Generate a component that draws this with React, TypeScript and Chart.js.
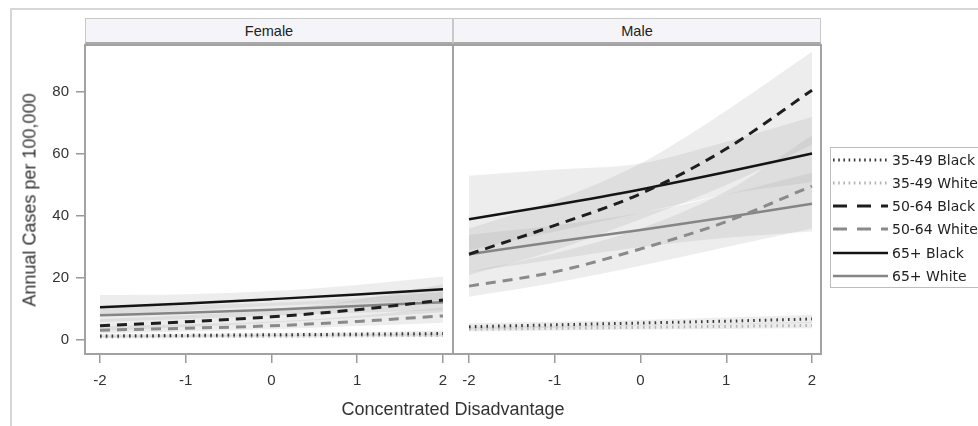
import React, { useEffect, useRef } from "react";
import { Chart, registerables } from "chart.js";

Chart.register(...registerables);

// ---------- data ----------
const xValues = [-2, -1, 0, 1, 2];
const xTicks = [-2, -1, 0, 1, 2];
const yTicks = [0, 20, 40, 60, 80];
const panelNames = ["Female", "Male"];
const seriesNames = ["35-49 Black", "35-49 White", "50-64 Black", "50-64 White", "65+ Black", "65+ White"];
const xTitle = "Concentrated Disadvantage";
const yTitle = "Annual Cases per 100,000";

// Female: fitted values, lower and upper confidence limits
const female3549Black = [1.3, 1.5, 1.7, 1.9, 2.1];
const female3549White = [1.0, 1.1, 1.2, 1.4, 1.5];
const female5064Black = [4.6, 5.9, 7.5, 9.8, 12.9];
const female5064White = [3.2, 3.8, 4.6, 6.0, 7.8];
const female65Black = [10.6, 11.8, 13.2, 14.7, 16.4];
const female65White = [8.0, 8.8, 9.8, 11.0, 12.2];

const female3549BlackLow = [0.8, 1.0, 1.2, 1.3, 1.4];
const female3549BlackHigh = [2.0, 2.1, 2.3, 2.6, 3.0];
const female3549WhiteLow = [0.6, 0.7, 0.8, 0.9, 1.0];
const female3549WhiteHigh = [1.5, 1.6, 1.7, 1.9, 2.2];
const female5064BlackLow = [3.0, 4.2, 5.6, 7.2, 9.0];
const female5064BlackHigh = [6.8, 8.0, 9.8, 13.0, 18.0];
const female5064WhiteLow = [2.2, 2.8, 3.5, 4.5, 5.6];
const female5064WhiteHigh = [4.5, 5.1, 6.0, 7.8, 10.5];
const female65BlackLow = [7.8, 9.4, 11.0, 12.0, 12.8];
const female65BlackHigh = [14.5, 14.8, 15.8, 17.8, 20.5];
const female65WhiteLow = [5.8, 6.8, 7.9, 8.8, 9.6];
const female65WhiteHigh = [10.8, 11.2, 12.0, 13.6, 15.5];

// Male
const male3549Black = [4.3, 4.9, 5.5, 6.1, 6.8];
const male3549White = [3.5, 3.8, 4.1, 4.4, 4.7];
const male5064Black = [27.7, 37.0, 47.2, 61.7, 80.6];
const male5064White = [17.4, 22.0, 29.4, 38.2, 49.7];
const male65Black = [39.0, 43.6, 48.6, 54.2, 60.2];
const male65White = [27.7, 31.7, 35.5, 39.6, 44.0];

const male3549BlackLow = [3.4, 4.0, 4.6, 5.1, 5.6];
const male3549BlackHigh = [5.4, 5.9, 6.5, 7.3, 8.2];
const male3549WhiteLow = [2.8, 3.1, 3.4, 3.6, 3.8];
const male3549WhiteHigh = [4.3, 4.6, 4.9, 5.3, 5.8];
const male5064BlackLow = [21, 29, 39, 50, 63];
const male5064BlackHigh = [36, 45, 57, 74, 93];
const male5064WhiteLow = [14, 18.5, 24, 30, 36];
const male5064WhiteHigh = [22, 28, 36, 48, 66];
const male65BlackLow = [29, 35, 41, 47, 51];
const male65BlackHigh = [53, 55, 57, 64, 72];
const male65WhiteLow = [22, 26, 30, 33, 35];
const male65WhiteHigh = [34, 37, 41, 47, 54];

const femaleValues = [female3549Black, female3549White, female5064Black, female5064White, female65Black, female65White];
const femaleLows = [female3549BlackLow, female3549WhiteLow, female5064BlackLow, female5064WhiteLow, female65BlackLow, female65WhiteLow];
const femaleHighs = [female3549BlackHigh, female3549WhiteHigh, female5064BlackHigh, female5064WhiteHigh, female65BlackHigh, female65WhiteHigh];
const maleValues = [male3549Black, male3549White, male5064Black, male5064White, male65Black, male65White];
const maleLows = [male3549BlackLow, male3549WhiteLow, male5064BlackLow, male5064WhiteLow, male65BlackLow, male65WhiteLow];
const maleHighs = [male3549BlackHigh, male3549WhiteHigh, male5064BlackHigh, male5064WhiteHigh, male65BlackHigh, male65WhiteHigh];

// ---------- styles ----------
const seriesStyles = [
  { color: "#3a3a3a", width: 3, dash: [1.6, 4.2], legendDash: [1.6, 3.6] },
  { color: "#b4b4b4", width: 3, dash: [1.6, 4.2], legendDash: [1.6, 3.6] },
  { color: "#1e1e1e", width: 3, dash: [10, 7], legendDash: [14, 10] },
  { color: "#8a8a8a", width: 3, dash: [10, 7], legendDash: [14, 10] },
  { color: "#141414", width: 2.5, dash: [], legendDash: [] },
  { color: "#858585", width: 2.5, dash: [], legendDash: [] },
];
const bandColor = "rgba(140,140,140,0.16)";
const SANS = '"Liberation Sans", Arial, Helvetica, sans-serif';

function buildDatasets(values: number[][], lows: number[][], highs: number[][]) {
  const ds: any[] = [];
  seriesStyles.forEach((_, i) => {
    ds.push({
      label: seriesNames[i] + " upper",
      data: xValues.map((x, j) => ({ x, y: highs[i][j] })),
      borderWidth: 0,
      pointRadius: 0,
      fill: "+1",
      backgroundColor: bandColor,
      cubicInterpolationMode: "monotone",
      order: 2,
    });
    ds.push({
      label: seriesNames[i] + " lower",
      data: xValues.map((x, j) => ({ x, y: lows[i][j] })),
      borderWidth: 0,
      pointRadius: 0,
      fill: false,
      backgroundColor: bandColor,
      cubicInterpolationMode: "monotone",
      order: 2,
    });
  });
  seriesStyles.forEach((st, i) => {
    ds.push({
      label: seriesNames[i],
      data: xValues.map((x, j) => ({ x, y: values[i][j] })),
      borderColor: st.color,
      borderWidth: st.width,
      borderDash: st.dash,
      borderCapStyle: "butt",
      pointRadius: 0,
      fill: false,
      cubicInterpolationMode: "monotone",
      order: 0,
    });
  });
  return ds;
}

const framePlugin = {
  id: "frame",
  afterDraw(chart: any) {
    const { ctx, chartArea: a } = chart;
    ctx.save();
    ctx.strokeStyle = "#a2a2a2";
    ctx.lineWidth = 2;
    ctx.strokeRect(a.left, a.top, a.right - a.left, a.bottom - a.top);
    ctx.restore();
  },
};

const legendPlugin = {
  id: "sideLegend",
  afterDraw(chart: any) {
    const { ctx, chartArea: a } = chart;
    const x0 = a.right + 9;
    const y0 = 147;
    ctx.save();
    ctx.strokeStyle = "#bdbdbd";
    ctx.lineWidth = 1;
    ctx.setLineDash([]);
    ctx.strokeRect(x0 + 0.5, y0 + 0.5, 160, 140);
    seriesNames.forEach((name, i) => {
      const st = seriesStyles[i];
      const y = Math.round(y0 + 12.5 + i * 23.3);
      ctx.setLineDash(st.legendDash);
      ctx.lineCap = "butt";
      ctx.strokeStyle = st.color;
      ctx.lineWidth = st.width;
      ctx.beginPath();
      ctx.moveTo(x0 + 3, y);
      ctx.lineTo(x0 + 58, y);
      ctx.stroke();
      ctx.setLineDash([]);
      ctx.fillStyle = "#222";
      ctx.font = '14px "DejaVu Sans", Verdana, sans-serif';
      ctx.textBaseline = "middle";
      ctx.textAlign = "left";
      ctx.fillText(name, x0 + 62, y + 1);
    });
    ctx.restore();
  },
};

function makeOptions(xMin: number, xMax: number, showY: boolean, padRight: number) {
  const tickFont = { family: SANS, size: 15 };
  return {
    responsive: false,
    animation: false,
    layout: { padding: { top: 45, right: padRight, left: 0, bottom: 0 } },
    plugins: { legend: { display: false }, tooltip: { enabled: false }, title: { display: false } },
    scales: {
      x: {
        type: "linear",
        min: xMin,
        max: xMax,
        afterBuildTicks: (s: any) => {
          s.ticks = xTicks.map((v) => ({ value: v }));
        },
        afterFit: (s: any) => {
          s.height = 72;
        },
        grid: { display: true, drawOnChartArea: false, drawTicks: true, tickLength: 9, color: "#9a9a9a", lineWidth: 1.5 },
        border: { display: false },
        ticks: { font: tickFont, color: "#333", padding: 9, maxRotation: 0, autoSkip: false, callback: (v: any) => String(v) },
      },
      y: {
        type: "linear",
        display: showY,
        min: -4.5,
        max: 95.2,
        afterBuildTicks: (s: any) => {
          s.ticks = yTicks.map((v) => ({ value: v }));
        },
        afterFit: (s: any) => {
          s.width = showY ? 85 : 0;
        },
        grid: { display: true, drawOnChartArea: false, drawTicks: true, tickLength: 9, color: "#9a9a9a", lineWidth: 1.5 },
        border: { display: false },
        ticks: { font: tickFont, color: "#333", padding: 7, callback: (v: any) => String(v) },
      },
    },
  };
}

export default function App() {
  const femaleRef = useRef<HTMLCanvasElement>(null);
  const maleRef = useRef<HTMLCanvasElement>(null);

  useEffect(() => {
    const c1 = new Chart(femaleRef.current as HTMLCanvasElement, {
      type: "line",
      data: { datasets: buildDatasets(femaleValues, femaleLows, femaleHighs) },
      options: makeOptions(-2.175, 2.117, true, 20) as any,
      plugins: [framePlugin],
    });
    const c2 = new Chart(maleRef.current as HTMLCanvasElement, {
      type: "line",
      data: { datasets: buildDatasets(maleValues, maleLows, maleHighs) },
      options: makeOptions(-2.187, 2.105, false, 157) as any,
      plugins: [framePlugin, legendPlugin],
    });
    return () => {
      c1.destroy();
      c2.destroy();
    };
  }, []);

  const header = (left: number, text: string) => (
    <div
      style={{
        position: "absolute",
        left,
        top: 18,
        width: 368,
        height: 26,
        boxSizing: "border-box",
        background: "#f4f4f9",
        border: "1px solid #c9c9c9",
        borderBottom: "2px solid #a9a9a9",
        fontFamily: SANS,
        fontSize: 14.5,
        color: "#222",
        textAlign: "center",
        lineHeight: "25px",
      }}
    >
      {text}
    </div>
  );

  return (
    <div style={{ position: "absolute", left: 0, top: 0, width: 978, height: 426, background: "#fff", overflow: "hidden" }}>
      <div
        style={{
          position: "absolute",
          left: 10,
          top: 8,
          width: 980,
          height: 430,
          borderTop: "2px solid #d6d6d6",
          borderLeft: "2px solid #d6d6d6",
        }}
      />
      <canvas ref={femaleRef} width={473} height={426} style={{ position: "absolute", left: 0, top: 0 }} />
      <canvas ref={maleRef} width={525} height={426} style={{ position: "absolute", left: 453, top: 0 }} />
      {header(85, panelNames[0])}
      {header(453, panelNames[1])}
      <div
        style={{
          position: "absolute",
          left: 30,
          top: 200,
          transform: "translate(-50%, -50%) rotate(-90deg)",
          whiteSpace: "nowrap",
          fontFamily: SANS,
          fontSize: 18,
          color: "#333",
        }}
      >
        {yTitle}
      </div>
      <div
        style={{
          position: "absolute",
          left: 453,
          top: 409,
          transform: "translate(-50%, -50%)",
          whiteSpace: "nowrap",
          fontFamily: SANS,
          fontSize: 18,
          color: "#333",
        }}
      >
        {xTitle}
      </div>
    </div>
  );
}
